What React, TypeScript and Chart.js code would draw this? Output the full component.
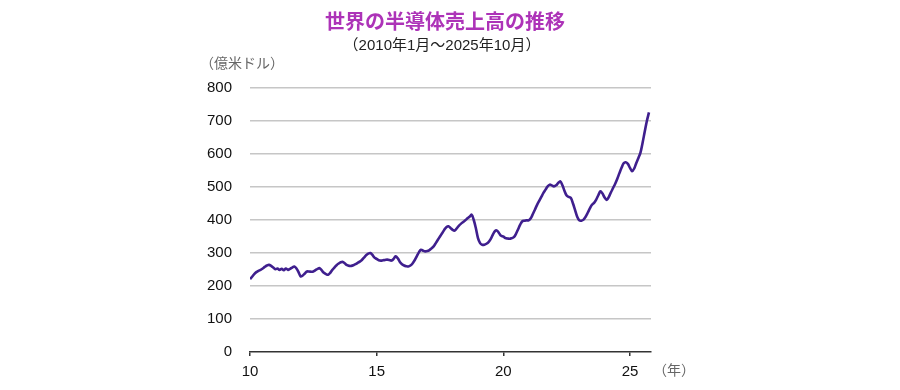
import React, { useEffect, useRef } from "react";
import { Chart, registerables } from "chart.js";

Chart.register(...registerables);

const startYear = 10; // 2010
const xTicks = [10, 15, 20, 25];
const yTicks = [0, 100, 200, 300, 400, 500, 600, 700, 800];

// Monthly semiconductor sales (100 million USD), Jan 2010 – Oct 2025
const s2010 = [221, 228, 236, 242, 246, 249, 253, 258, 262, 264, 261, 256];
const s2011 = [251, 253, 249, 252, 248, 253, 249, 252, 256, 259, 253, 242];
const s2012 = [229, 232, 238, 244, 244, 243, 244, 248, 252, 254, 247, 240];
const s2013 = [236, 234, 240, 249, 256, 263, 268, 272, 273, 268, 263, 261];
const s2014 = [261, 263, 266, 270, 274, 279, 286, 293, 298, 300, 294, 286];
const s2015 = [282, 278, 277, 278, 279, 280, 279, 277, 282, 290, 284, 273];
const s2016 = [266, 262, 260, 259, 262, 268, 278, 290, 302, 310, 307, 305];
const s2017 = [306, 309, 314, 320, 330, 340, 350, 360, 370, 378, 381, 376];
const s2018 = [370, 368, 375, 383, 389, 394, 399, 405, 410, 416, 400, 375];
const s2019 = [345, 330, 325, 325, 328, 333, 342, 355, 366, 368, 360, 352];
const s2020 = [350, 345, 344, 343, 345, 348, 358, 372, 386, 396, 398, 399];
const s2021 = [399, 405, 418, 432, 446, 458, 470, 482, 492, 502, 507, 505];
const s2022 = [502, 505, 512, 517, 505, 488, 474, 470, 467, 450, 430, 410];
const s2023 = [399, 398, 401, 410, 422, 435, 446, 452, 462, 475, 487, 480];
const s2024 = [468, 461, 470, 484, 497, 510, 525, 542, 558, 572, 575, 570];
const s2025 = [558, 548, 556, 573, 588, 605, 635, 668, 700, 726];

const sales = [
  ...s2010, ...s2011, ...s2012, ...s2013, ...s2014, ...s2015, ...s2016, ...s2017,
  ...s2018, ...s2019, ...s2020, ...s2021, ...s2022, ...s2023, ...s2024, ...s2025,
];

const titleText = "世界の半導体売上高の推移";
const subtitleText = "（2010年1月～2025年10月）";
const yUnitText = "（億米ドル）";
const xUnitText = "（年）";

export default function App() {
  const ref = useRef<HTMLCanvasElement | null>(null);

  useEffect(() => {
    if (!ref.current) return;
    const points = sales.map((v, i) => ({ x: startYear + i / 12, y: v }));

    const textPlugin = {
      id: "texts",
      afterDraw(chart: any) {
        const ctx = chart.ctx as CanvasRenderingContext2D;
        const ca = chart.chartArea;
        ctx.save();
        ctx.textBaseline = "middle";
        ctx.textAlign = "center";
        ctx.fillStyle = "#ad33b8";
        ctx.font = "bold 20px 'Noto Sans CJK JP', sans-serif";
        ctx.fillText(titleText, 445, 21);
        ctx.fillStyle = "#222";
        ctx.font = "15px 'Liberation Sans', 'Noto Sans CJK JP', sans-serif";
        ctx.fillText(subtitleText, 442, 46);
        ctx.textAlign = "left";
        ctx.fillStyle = "#666";
        ctx.font = "14px 'Liberation Sans', 'Noto Sans CJK JP', sans-serif";
        ctx.fillText(yUnitText, 200, 64);
        ctx.fillText(xUnitText, ca.right + 2, 371);
        ctx.restore();
      },
    };

    const chart = new Chart(ref.current, {
      type: "line",
      data: {
        datasets: [
          {
            data: points,
            borderColor: "#3f1f8e",
            borderWidth: 2.6,
            pointRadius: 0,
            tension: 0.35,
            fill: false,
          },
        ],
      },
      options: {
        responsive: false,
        animation: false,
        layout: { padding: { left: 190, right: 249, top: 88, bottom: 8 } },
        plugins: { legend: { display: false }, tooltip: { enabled: false }, title: { display: false } },
        scales: {
          x: {
            type: "linear",
            min: 10,
            max: 25.83,
            afterBuildTicks: (axis: any) => {
              axis.ticks = xTicks.map((v) => ({ value: v }));
            },
            afterFit: (axis: any) => {
              axis.height = 30;
            },
            grid: { drawOnChartArea: false, drawTicks: true, tickLength: 4, color: "#333", lineWidth: 1.5 },
            border: { display: true, color: "#333", width: 1.6 },
            ticks: {
              padding: 7,
              maxRotation: 0,
              color: "#111",
              font: { family: "'Liberation Sans', sans-serif", size: 15 },
              callback: (v: any) => String(v),
            },
          },
          y: {
            min: 0,
            max: 800,
            afterBuildTicks: (axis: any) => {
              axis.ticks = yTicks.map((v) => ({ value: v }));
            },
            afterFit: (axis: any) => {
              axis.width = 60;
            },
            grid: {
              drawTicks: false,
              lineWidth: 1.6,
              color: (c: any) => (c.tick && c.tick.value === 0 ? "rgba(0,0,0,0)" : "#c6c6c6"),
            },
            border: { display: false },
            ticks: {
              padding: 18,
              color: "#111",
              font: { family: "'Liberation Sans', sans-serif", size: 15 },
            },
          },
        },
      },
      plugins: [textPlugin],
    });
    return () => chart.destroy();
  }, []);

  return (
    <div style={{ position: "absolute", left: 0, top: 0, width: 900, height: 390, background: "#fff" }}>
      <canvas ref={ref} width={900} height={390} />
    </div>
  );
}
